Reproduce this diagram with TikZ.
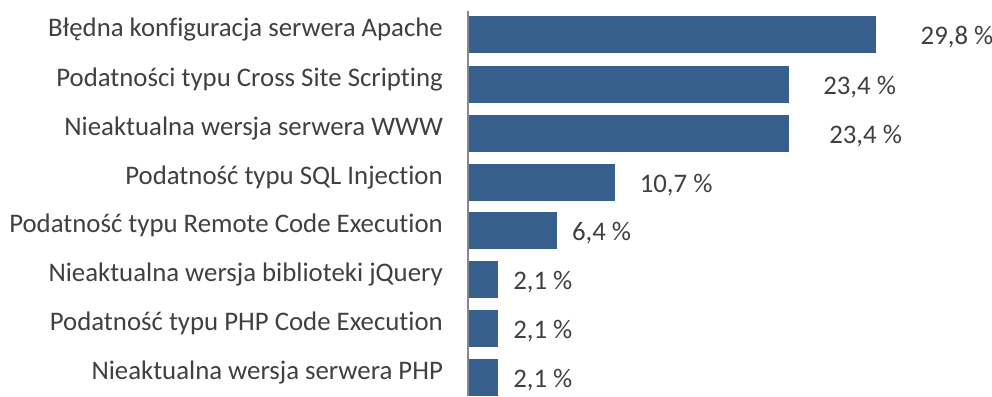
\documentclass[tikz,border=0pt]{standalone}
\usepackage{fontspec}
\setmainfont{Carlito}[Ligatures=CommonOff]
\usetikzlibrary{positioning}

\definecolor{barblue}{HTML}{37608F}
\definecolor{txtgray}{HTML}{404040}
\definecolor{axisgray}{HTML}{878787}

\tikzset{
  bar/.style={fill=barblue, draw=none, inner sep=0pt, minimum height=37pt, anchor=west},
  catlabel/.style={anchor=base east, text=txtgray, inner sep=0pt, font=\fontsize{26.8}{27}\selectfont},
  vallabel/.style={anchor=base west, text=txtgray, inner sep=0pt, font=\fontsize{26.8}{27}\selectfont},
}

\begin{document}
\begin{tikzpicture}[x=1pt, y=-1pt]
\path [use as bounding box] (0,0) rectangle (992,396);
% axis
\coordinate (axtop) at (468,11);
\coordinate (axbot) at (468,396);
\draw [axisgray, line width=2pt] (axtop) -- (axbot);
% bars, names and values
\foreach \n/\y/\v/\txt/\d/\name in {
  1/35/29.8/{29,8}/44/Błędna konfiguracja serwera Apache,
  2/84.5/23.4/{23,4}/34/Podatności typu Cross Site Scripting,
  3/133.5/23.4/{23,4}/40/Nieaktualna wersja serwera WWW,
  4/182/10.7/{10,7}/24/Podatność typu SQL Injection,
  5/230.5/6.4/{6,4}/15/Podatność typu Remote Code Execution,
  6/279.5/2.1/{2,1}/15/Nieaktualna wersja biblioteki jQuery,
  7/328.5/2.1/{2,1}/15/Podatność typu PHP Code Execution,
  8/377.5/2.1/{2,1}/15/Nieaktualna wersja serwera PHP} {
  \node [bar, minimum width=13.66pt*\v] (bar\n) at (469,\y) {};
  \node [catlabel] (cat\n) at ([xshift=-26pt, yshift=-2pt]bar\n.west) {\name};
  \node [vallabel] (val\n) at ([xshift=\d pt, yshift=-10pt]bar\n.east) {\txt~\%};
}
\end{tikzpicture}
\end{document}
